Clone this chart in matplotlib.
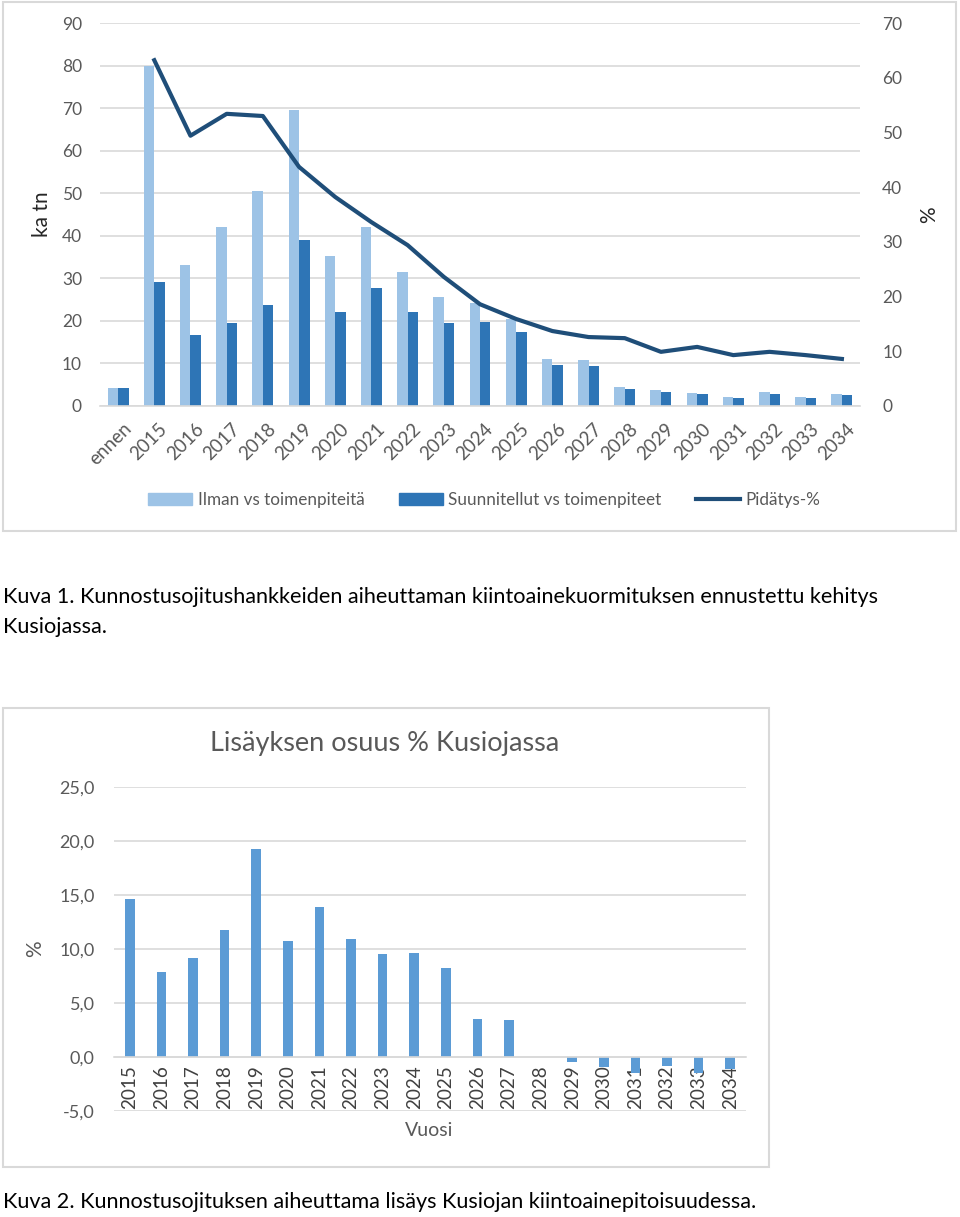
import matplotlib
matplotlib.use("Agg")
import matplotlib.pyplot as plt
import numpy as np
from matplotlib.patches import Rectangle
from matplotlib.lines import Line2D
from matplotlib.patches import Patch

plt.rcParams['font.family'] = ['Lato', 'DejaVu Sans']

# --- data, kuva 1 ---
vuodet1 = ['ennen'] + [str(v) for v in range(2015, 2035)]
ilman = [4.2, 80.0, 33.2, 42.0, 50.5, 69.5, 35.3, 42.0, 31.6, 25.5, 24.3,
         20.5, 11.0, 10.8, 4.5, 3.8, 3.0, 2.1, 3.3, 2.1, 2.8]
suunn = [4.2, 29.2, 16.8, 19.4, 23.8, 39.1, 22.0, 27.8, 22.2, 19.5, 19.7,
         17.3, 9.6, 9.3, 4.0, 3.3, 2.8, 1.9, 2.8, 1.9, 2.7]
pidatys = [63.2, 49.4, 53.4, 53.0, 43.7, 38.2, 33.6, 29.4, 23.6, 18.6,
           15.9, 13.7, 12.6, 12.4, 9.9, 10.8, 9.3, 9.9, 9.3, 8.6]

# --- data, kuva 2 ---
vuodet2 = [str(v) for v in range(2015, 2035)]
lisays = [14.6, 7.9, 9.2, 11.8, 19.3, 10.7, 13.9, 10.9, 9.5, 9.6, 8.2,
          3.5, 3.4, 0.0, -0.5, -0.95, -1.45, -0.8, -1.45, -1.1]

W, H = 960, 1217
fig = plt.figure(figsize=(W / 100, H / 100), dpi=100)
fig.patch.set_facecolor('white')

def box(l, t, r, b):
    return [l / W, 1 - b / H, (r - l) / W, (b - t) / H]

gray = '#595959'
grid = '#D9D9D9'

# kehykset
fig.patches.append(Rectangle((3 / W, 1 - 531 / H), 953 / W, 529 / H, transform=fig.transFigure,
                             fill=False, edgecolor=grid, linewidth=1.5))
fig.patches.append(Rectangle((3 / W, 1 - 1167 / H), 766 / W, 459 / H, transform=fig.transFigure,
                             fill=False, edgecolor=grid, linewidth=1.5))

# ---------- kuva 1 ----------
ax = fig.add_axes(box(100, 23, 860, 406))
x = np.arange(len(vuodet1))
bw = 0.29
ax.bar(x - bw / 2, ilman, bw, color='#9DC3E6', zorder=2)
ax.bar(x + bw / 2, suunn, bw, color='#2E75B6', zorder=2)
ax.set_xlim(-0.5, len(vuodet1) - 0.5)
ax.set_ylim(0, 90)
ax.set_yticks(np.arange(0, 91, 10))
ax.yaxis.grid(True, color=grid, linewidth=1.2, zorder=0)
ax.set_axisbelow(True)
for s in ['top', 'right', 'left']:
    ax.spines[s].set_visible(False)
ax.spines['bottom'].set_color(grid)
ax.spines['bottom'].set_linewidth(1.2)
ax.tick_params(axis='both', length=0, colors=gray, labelsize=12.5)
ax.tick_params(axis='y', pad=13)
ax.set_xticks(x + 0.12)
ax.set_xticklabels(vuodet1, rotation=45, ha='right', rotation_mode='anchor')
ax.tick_params(axis='x', labelsize=13.5, pad=10)
ax.set_ylabel('ka tn', fontsize=15, color='#262626', labelpad=7)

ax2 = ax.twinx()
ax2.plot(x[1:], pidatys, color='#1F4E79', linewidth=3, zorder=3)
ax2.set_ylim(0, 70)
ax2.set_yticks(np.arange(0, 71, 10))
for s in ['top', 'right', 'left', 'bottom']:
    ax2.spines[s].set_visible(False)
ax2.tick_params(axis='y', length=0, colors=gray, labelsize=12.5, pad=16)
ax2.set_ylabel('%', fontsize=15, color='#262626', labelpad=12)

handles = [Patch(color='#9DC3E6'), Patch(color='#2E75B6'),
           Line2D([], [], color='#1F4E79', linewidth=3)]
labels = ['Ilman vs toimenpiteitä', 'Suunnitellut vs toimenpiteet', 'Pidätys-%']
fig.legend(handles, labels, loc='center', bbox_to_anchor=(484 / W, 1 - 500 / H), ncol=3,
           frameon=False, fontsize=12.3, labelcolor=gray, handlelength=2.6, handleheight=0.75,
           columnspacing=2.0, handletextpad=0.3)

fig.text(3 / W, 1 - 597 / H,
         'Kuva 1. Kunnostusojitushankkeiden aiheuttaman kiintoainekuormituksen ennustettu kehitys',
         fontsize=15.6, va='center', ha='left', color='black')
fig.text(3 / W, 1 - 627 / H, 'Kusiojassa.', fontsize=15.6, va='center', ha='left', color='black')

# ---------- kuva 2 ----------
bx = fig.add_axes(box(114, 787, 746, 1111))
x2 = np.arange(len(vuodet2))
bx.bar(x2, lisays, 0.31, color='#5B9BD5', zorder=2)
bx.set_xlim(-0.5, len(vuodet2) - 0.5)
bx.set_ylim(-5, 25)
bx.set_yticks(np.arange(-5, 26, 5))
bx.set_yticklabels([('%.1f' % v).replace('.', ',') for v in np.arange(-5, 26, 5)])
bx.yaxis.grid(True, color=grid, linewidth=1.2, zorder=0)
bx.set_axisbelow(True)
for s in ['top', 'right', 'left']:
    bx.spines[s].set_visible(False)
bx.spines['bottom'].set_position(('data', 0))
bx.spines['bottom'].set_color(grid)
bx.spines['bottom'].set_linewidth(1.2)
bx.set_xticks(x2)
bx.set_xticklabels(vuodet2, rotation=90, va='top')
bx.tick_params(axis='both', length=0, colors=gray, labelsize=13)
bx.tick_params(axis='x', pad=6, labelcolor='#404040', labelsize=13.6)
bx.tick_params(axis='y', pad=14)
bx.set_ylabel('%', fontsize=15, color=gray, labelpad=10)
fig.text(429 / W, 1 - 1130 / H, 'Vuosi', fontsize=14, color=gray, ha='center', va='center')
fig.text(385 / W, 1 - 744 / H, 'Lisäyksen osuus % Kusiojassa', fontsize=19.5, color=gray,
         ha='center', va='center')

fig.text(3 / W, 1 - 1202 / H,
         'Kuva 2. Kunnostusojituksen aiheuttama lisäys Kusiojan kiintoainepitoisuudessa.',
         fontsize=15.6, va='center', ha='left', color='black')

fig.savefig('out.png', dpi=100, facecolor='white')
